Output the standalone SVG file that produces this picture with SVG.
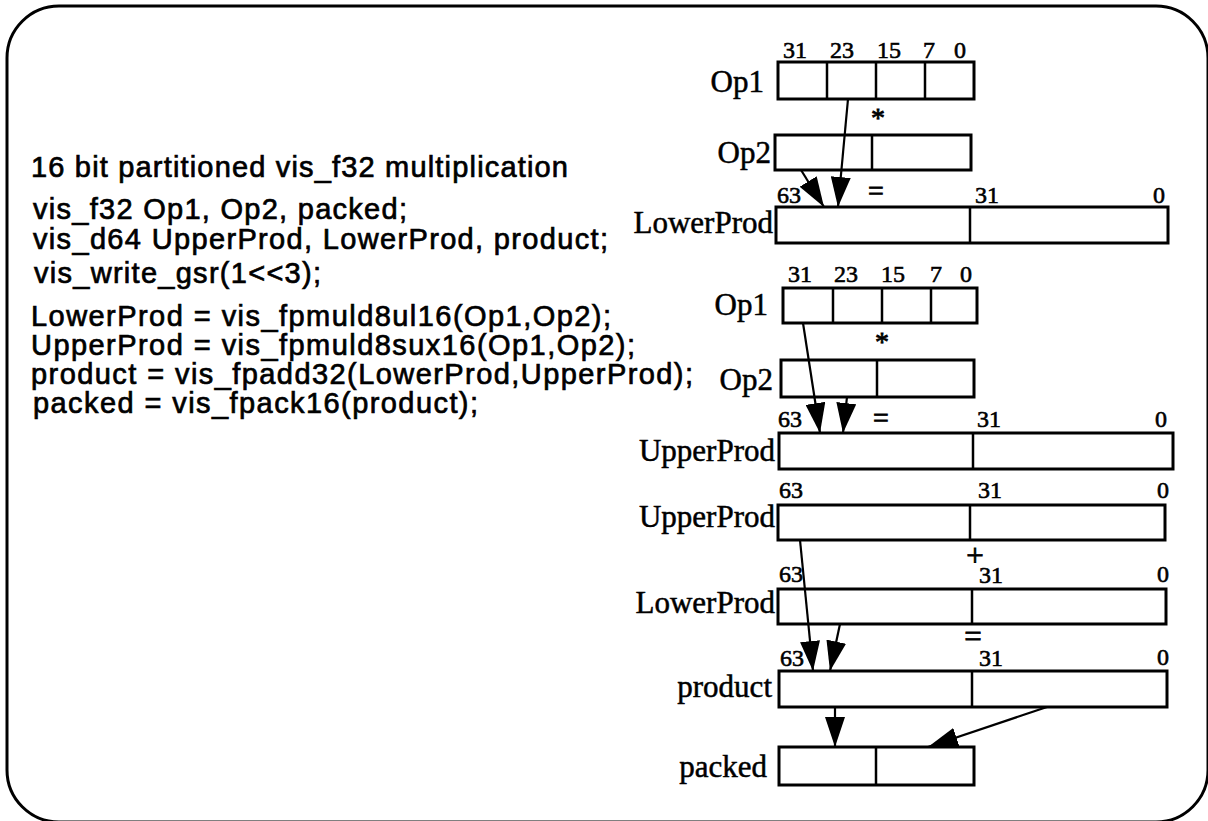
<svg xmlns="http://www.w3.org/2000/svg" width="1208" height="821" viewBox="0 0 1208 821">
<defs>
<style>
.frame{fill:none;stroke:#000;stroke-width:3}
.box{fill:#fff;stroke:#000;stroke-width:3}
.div{stroke:#000;stroke-width:2.5}
.code{font-family:"Liberation Sans",Arial,sans-serif;font-size:29px;fill:#000;stroke:#000;stroke-width:0.7px}
.lbl{font-family:"Liberation Serif","Times New Roman",serif;font-size:31px;fill:#000;stroke:#000;stroke-width:0.5px;text-anchor:end}
.bit{font-family:"Liberation Serif","Times New Roman",serif;font-size:24px;fill:#000;stroke:#000;stroke-width:0.6px;text-anchor:middle}
.op{font-family:"Liberation Serif","Times New Roman",serif;font-size:28px;fill:#000;stroke:#000;stroke-width:0.8px;text-anchor:middle}
.op2{font-family:"Liberation Serif","Times New Roman",serif;font-size:31px;fill:#000;stroke:#000;stroke-width:0.8px;text-anchor:middle}
.conn{stroke:#000;stroke-width:2.2;fill:none;marker-end:url(#ah)}
</style>
<marker id="ah" markerUnits="userSpaceOnUse" markerWidth="30" markerHeight="20" refX="30" refY="10" orient="auto" viewBox="0 0 30 20">
<path d="M0,0 L30,10 L0,20 z" fill="#000"/>
</marker>
</defs>
<rect width="1208" height="821" fill="#fff"/>
<rect class="frame" x="7" y="6" width="1201" height="816" rx="52" ry="52"/>

<g id="code">
<text class="code" x="31" y="177" textLength="537" lengthAdjust="spacing">16 bit partitioned vis_f32 multiplication</text>
<text class="code" x="33" y="219" textLength="374" lengthAdjust="spacing">vis_f32 Op1, Op2, packed;</text>
<text class="code" x="33" y="249" textLength="575" lengthAdjust="spacing">vis_d64 UpperProd, LowerProd, product;</text>
<text class="code" x="34" y="283" textLength="287" lengthAdjust="spacing">vis_write_gsr(1&lt;&lt;3);</text>
<text class="code" x="31" y="326" textLength="580" lengthAdjust="spacing">LowerProd = vis_fpmuld8ul16(Op1,Op2);</text>
<text class="code" x="31" y="355" textLength="604" lengthAdjust="spacing">UpperProd = vis_fpmuld8sux16(Op1,Op2);</text>
<text class="code" x="31" y="384" textLength="662" lengthAdjust="spacing">product = vis_fpadd32(LowerProd,UpperProd);</text>
<text class="code" x="33" y="413" textLength="445" lengthAdjust="spacing">packed = vis_fpack16(product);</text>
</g>

<g id="op1-a">
<rect class="box" x="778" y="62" width="196" height="37"/>
<line class="div" x1="827" y1="62" x2="827" y2="99"/>
<line class="div" x1="876" y1="62" x2="876" y2="99"/>
<line class="div" x1="925" y1="62" x2="925" y2="99"/>
<text class="lbl" x="764" y="92">Op1</text>
<text class="bit" x="795" y="58">31</text>
<text class="bit" x="842" y="58">23</text>
<text class="bit" x="889" y="58">15</text>
<text class="bit" x="929" y="58">7</text>
<text class="bit" x="960" y="58">0</text>
</g>
<text class="op" x="878" y="127">*</text>
<g id="op2-a">
<rect class="box" x="775" y="135" width="196" height="35"/>
<line class="div" x1="872" y1="135" x2="872" y2="170"/>
<text class="lbl" x="771" y="163">Op2</text>
</g>
<g id="lowerprod-a">
<rect class="box" x="776" y="207" width="392" height="36"/>
<line class="div" x1="970" y1="207" x2="970" y2="243"/>
<text class="lbl" x="773" y="233">LowerProd</text>
<text class="bit" x="789" y="203">63</text>
<text class="bit" x="987" y="203">31</text>
<text class="bit" x="1159" y="203">0</text>
</g>
<text class="op" x="876" y="200">=</text>

<g id="op1-b">
<rect class="box" x="783" y="288" width="194" height="35"/>
<line class="div" x1="833" y1="288" x2="833" y2="323"/>
<line class="div" x1="882" y1="288" x2="882" y2="323"/>
<line class="div" x1="931" y1="288" x2="931" y2="323"/>
<text class="lbl" x="768" y="315">Op1</text>
<text class="bit" x="800" y="282">31</text>
<text class="bit" x="846" y="282">23</text>
<text class="bit" x="893" y="282">15</text>
<text class="bit" x="936" y="282">7</text>
<text class="bit" x="966" y="282">0</text>
</g>
<text class="op" x="882" y="351">*</text>
<g id="op2-b">
<rect class="box" x="781" y="360" width="193" height="37"/>
<line class="div" x1="877" y1="360" x2="877" y2="397"/>
<text class="lbl" x="773" y="390">Op2</text>
</g>
<g id="upperprod-a">
<rect class="box" x="779" y="433" width="394" height="36"/>
<line class="div" x1="973" y1="433" x2="973" y2="469"/>
<text class="lbl" x="775" y="461">UpperProd</text>
<text class="bit" x="790" y="427">63</text>
<text class="bit" x="989" y="427">31</text>
<text class="bit" x="1161" y="427">0</text>
</g>
<text class="op" x="881" y="427">=</text>

<g id="upperprod-b">
<rect class="box" x="778" y="505" width="387" height="35"/>
<line class="div" x1="970" y1="505" x2="970" y2="540"/>
<text class="lbl" x="775" y="527">UpperProd</text>
<text class="bit" x="791" y="498">63</text>
<text class="bit" x="990" y="498">31</text>
<text class="bit" x="1163" y="498">0</text>
</g>
<text class="op2" x="975" y="566">+</text>
<g id="lowerprod-b">
<rect class="box" x="778" y="589" width="388" height="35"/>
<line class="div" x1="972" y1="589" x2="972" y2="624"/>
<text class="lbl" x="775" y="613">LowerProd</text>
<text class="bit" x="791" y="582">63</text>
<text class="bit" x="991" y="583">31</text>
<text class="bit" x="1163" y="582">0</text>
</g>
<text class="op2" x="973" y="647">=</text>
<g id="product">
<rect class="box" x="779" y="671" width="388" height="36"/>
<line class="div" x1="972" y1="671" x2="972" y2="707"/>
<text class="lbl" x="772" y="697">product</text>
<text class="bit" x="792" y="666">63</text>
<text class="bit" x="991" y="666">31</text>
<text class="bit" x="1163" y="665">0</text>
</g>
<g id="packed">
<rect class="box" x="779" y="747" width="195" height="38"/>
<line class="div" x1="876" y1="747" x2="876" y2="785"/>
<text class="lbl" x="767" y="777">packed</text>
</g>

<g id="connectors">
<line class="conn" x1="848" y1="99" x2="838" y2="207"/>
<line class="conn" x1="801" y1="170" x2="824" y2="207"/>
<line class="conn" x1="803" y1="323" x2="820" y2="433"/>
<line class="conn" x1="847" y1="397" x2="843" y2="433"/>
<line class="conn" x1="800" y1="540" x2="813" y2="671"/>
<line class="conn" x1="840" y1="624" x2="830" y2="671"/>
<line class="conn" x1="835" y1="707" x2="835" y2="747"/>
<line class="conn" x1="1047" y1="707" x2="928" y2="747"/>
</g>
</svg>
